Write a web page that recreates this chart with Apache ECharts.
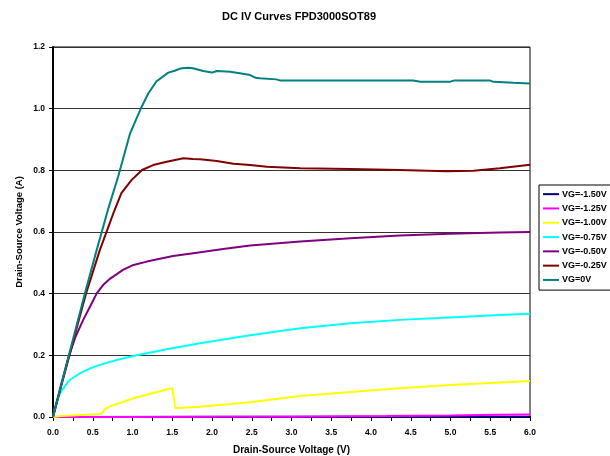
<!DOCTYPE html>
<html>
<head>
<meta charset="utf-8">
<script src="https://cdn.jsdelivr.net/npm/echarts@6/dist/echarts.min.js"></script>
<style>
  html, body { margin: 0; padding: 0; background: #fff; }
  #chart { width: 610px; height: 456px; }
</style>
</head>
<body>
<div id="chart"></div>
<script>
// Drain current (A) versus drain-source voltage (V), one curve per gate voltage.
const seriesNames = ['VG=-1.50V', 'VG=-1.25V', 'VG=-1.00V', 'VG=-0.75V', 'VG=-0.50V', 'VG=-0.25V', 'VG=0V'];
const seriesColors = ['#000080', '#FF00FF', '#FFFF00', '#00FFFF', '#800080', '#800000', '#008080'];

const vgNeg150 = [[0, 0], [3, 0.0005], [6, 0.001]];
const vgNeg125 = [[0, 0], [1, 0], [2, 0.001], [3, 0.001], [4.2, 0.003], [5, 0.005], [5.6, 0.007], [6, 0.008]];
const vgNeg100 = [[0, 0], [0.1, 0.003], [0.3, 0.006], [0.61, 0.01], [0.65, 0.025], [0.70, 0.033], [1.01, 0.061],
  [1.25, 0.077], [1.50, 0.094], [1.54, 0.028], [1.85, 0.033], [2.48, 0.048], [3.11, 0.068], [3.74, 0.081],
  [4.36, 0.093], [5.0, 0.104], [6.0, 0.117]];
const vgNeg075 = [[0, 0], [0.025, 0.033], [0.05, 0.055], [0.09, 0.077], [0.15, 0.1], [0.21, 0.120], [0.34, 0.142],
  [0.47, 0.158], [0.59, 0.169], [0.80, 0.185], [1.01, 0.198], [1.43, 0.220], [1.85, 0.239], [2.48, 0.265],
  [3.11, 0.288], [3.74, 0.304], [4.36, 0.315], [4.99, 0.323], [5.62, 0.331], [6.0, 0.335]];
const vgNeg050 = [[0, 0], [0.05, 0.052], [0.1, 0.103], [0.19, 0.19], [0.28, 0.258], [0.38, 0.315], [0.47, 0.36],
  [0.55, 0.401], [0.63, 0.428], [0.72, 0.449], [0.88, 0.477], [1.0, 0.492], [1.18, 0.504], [1.51, 0.522],
  [1.81, 0.533], [2.14, 0.545], [2.48, 0.556], [3.11, 0.569], [3.74, 0.580], [4.36, 0.589], [4.99, 0.594],
  [5.62, 0.598], [6.0, 0.600]];
const vgNeg025 = [[0, 0], [0.1, 0.097], [0.2, 0.193], [0.3, 0.29], [0.415, 0.4], [0.59, 0.542], [0.76, 0.661],
  [0.86, 0.726], [0.99, 0.769], [1.12, 0.801], [1.26, 0.817], [1.43, 0.828], [1.64, 0.839], [1.76, 0.837],
  [1.85, 0.836], [2.06, 0.830], [2.27, 0.821], [2.48, 0.817], [2.69, 0.812], [3.11, 0.807], [3.74, 0.804],
  [4.36, 0.801], [4.95, 0.797], [5.29, 0.799], [5.62, 0.807], [6.0, 0.818]];
const vg0 = [[0, 0], [0.1, 0.1], [0.2, 0.2], [0.3, 0.3], [0.4, 0.4], [0.55, 0.542], [0.7, 0.68], [0.82, 0.78],
  [0.97, 0.92], [1.10, 0.998], [1.20, 1.05], [1.30, 1.088], [1.45, 1.117], [1.53, 1.123], [1.6, 1.13],
  [1.7, 1.133], [1.76, 1.131], [1.89, 1.122], [2.0, 1.117], [2.06, 1.122], [2.23, 1.12], [2.35, 1.115],
  [2.48, 1.109], [2.55, 1.1], [2.6, 1.099], [2.81, 1.095], [2.86, 1.091], [3.32, 1.091], [4.53, 1.091],
  [4.62, 1.087], [4.99, 1.087], [5.04, 1.091], [5.5, 1.091], [5.54, 1.087], [5.79, 1.084], [6.0, 1.082]];

const curves = [vgNeg150, vgNeg125, vgNeg100, vgNeg075, vgNeg050, vgNeg025, vg0];

const FONT = 'Liberation Sans, Arial, sans-serif';

const chart = echarts.init(document.getElementById('chart'), null, { renderer: 'canvas' });

chart.setOption({
  backgroundColor: '#fff',
  animation: false,
  title: {
    text: 'DC IV Curves FPD3000SOT89',
    left: 294, top: 6, textAlign: 'center',
    textStyle: { fontFamily: FONT, fontSize: 11, fontWeight: 'bold', color: '#000' }
  },
  grid: {
    left: 53, right: 80, top: 47, bottom: 39,
    outerBoundsMode: 'none',
    containLabel: false,
    show: true, borderColor: '#000', borderWidth: 1
  },
  legend: {
    orient: 'vertical',
    left: 539, top: 185,
    data: seriesNames,
    icon: 'rect', itemWidth: 16, itemHeight: 2, itemGap: 4,
    padding: [4, 30, 5, 4],
    borderColor: '#000', borderWidth: 1,
    textStyle: { fontFamily: FONT, fontSize: 9, fontWeight: 'bold', color: '#000', lineHeight: 10.3, padding: [0, 0, 0, -2] }
  },
  xAxis: {
    type: 'value', min: 0, max: 6, interval: 0.25,
    name: 'Drain-Source Voltage (V)', nameLocation: 'middle', nameGap: 28,
    nameMoveOverlap: false,
    nameTextStyle: { fontFamily: FONT, fontSize: 10, fontWeight: 'bold', color: '#000' },
    axisLine: { show: true, lineStyle: { color: '#000', width: 2 } },
    axisTick: { show: true, length: 4, lineStyle: { color: '#000' } },
    axisLabel: {
      fontFamily: FONT, fontSize: 8.5, fontWeight: 'bold', color: '#000', margin: 11,
      formatter: v => (Math.abs(v * 2 - Math.round(v * 2)) < 1e-6 ? v.toFixed(1) : '')
    },
    splitLine: { show: false }
  },
  yAxis: {
    type: 'value', min: 0, max: 1.2, interval: 0.2,
    name: 'Drain-Source Voltage (A)', nameLocation: 'middle', nameGap: 29,
    nameMoveOverlap: false,
    nameTextStyle: { fontFamily: FONT, fontSize: 9.5, fontWeight: 'bold', color: '#000' },
    axisLine: { show: true, lineStyle: { color: '#000', width: 2 } },
    axisTick: { show: true, length: 4, lineStyle: { color: '#000' } },
    axisLabel: {
      fontFamily: FONT, fontSize: 8.5, fontWeight: 'bold', color: '#000', margin: 8,
      formatter: v => v.toFixed(1)
    },
    splitLine: { show: true, lineStyle: { color: '#333', width: 1 } }
  },
  series: curves.map((data, i) => ({
    name: seriesNames[i],
    type: 'line',
    data: data,
    showSymbol: false,
    symbol: 'none',
    color: seriesColors[i],
    lineStyle: { color: seriesColors[i], width: 2 },
    z: 2 + i
  }))
});
</script>
</body>
</html>
